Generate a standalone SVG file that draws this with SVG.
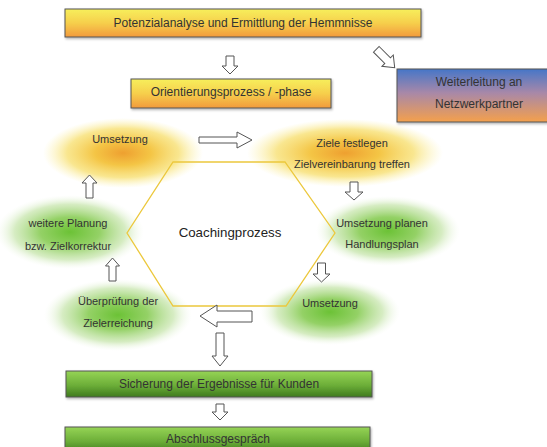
<svg xmlns="http://www.w3.org/2000/svg" width="547" height="447" viewBox="0 0 547 447">
<style>
  text { font-family: "Liberation Sans", Arial, sans-serif; fill: #333; text-anchor: middle; }
  .box { font-size: 12px; }
  .lbl { font-size: 11px; }
  .arrow { fill: #fff; stroke: #555; stroke-width: 1; stroke-linejoin: miter; }
  .frame { stroke: #555; stroke-width: 1; }
</style>
<defs>
  <linearGradient id="gOrange" x1="0" y1="0" x2="0" y2="1">
    <stop offset="0" stop-color="#f7ef5c"/>
    <stop offset="0.5" stop-color="#f6cf4c"/>
    <stop offset="1" stop-color="#f29a3c"/>
  </linearGradient>
  <linearGradient id="gBlue" x1="0" y1="0" x2="0" y2="1">
    <stop offset="0" stop-color="#4676c8"/>
    <stop offset="0.45" stop-color="#a888a8"/>
    <stop offset="1" stop-color="#f4a04c"/>
  </linearGradient>
  <linearGradient id="gGreen" x1="0" y1="0" x2="0" y2="1">
    <stop offset="0" stop-color="#96d456"/>
    <stop offset="0.55" stop-color="#6cae38"/>
    <stop offset="1" stop-color="#3e7a1e"/>
  </linearGradient>
  <radialGradient id="rYellow" cx="0.5" cy="0.5" r="0.5">
    <stop offset="0" stop-color="#eea030"/>
    <stop offset="0.35" stop-color="#f4c545"/>
    <stop offset="0.7" stop-color="#f7de6a" stop-opacity="0.75"/>
    <stop offset="1" stop-color="#fbf0a0" stop-opacity="0"/>
  </radialGradient>
  <radialGradient id="rGreen" cx="0.5" cy="0.5" r="0.5">
    <stop offset="0" stop-color="#6cc236"/>
    <stop offset="0.4" stop-color="#94d166"/>
    <stop offset="0.75" stop-color="#c4e4a8" stop-opacity="0.7"/>
    <stop offset="1" stop-color="#eef7e6" stop-opacity="0"/>
  </radialGradient>
  <filter id="sh" x="-5%" y="-20%" width="110%" height="150%">
    <feDropShadow dx="1" dy="1.5" stdDeviation="1" flood-color="#000" flood-opacity="0.3"/>
  </filter>
</defs>

<g id="blobs">
  <g id="n-umsetzung1"><ellipse cx="123" cy="153" rx="80" ry="35" fill="url(#rYellow)"/></g>
  <g id="n-ziele"><ellipse cx="345" cy="153" rx="98" ry="34" fill="url(#rYellow)"/></g>
  <g id="n-weitere"><ellipse cx="70" cy="232" rx="74" ry="37" fill="url(#rGreen)"/></g>
  <g id="n-planen"><ellipse cx="388" cy="231" rx="72" ry="35" fill="url(#rGreen)"/></g>
  <g id="n-ueberpruefung"><ellipse cx="118" cy="315" rx="74" ry="36" fill="url(#rGreen)"/></g>
  <g id="n-umsetzung2"><ellipse cx="330" cy="312" rx="70" ry="33" fill="url(#rGreen)"/></g>
</g>

<g id="hexagon">
  <polygon points="173,162 285,162 335,233 286,306 173,306 127,233" fill="none" stroke="#ecc83c" stroke-width="1.3"/>
  <text x="230" y="237" style="font-size:13.3px;fill:#222">Coachingprozess</text>
</g>

<g id="n-potenzial">
  <rect x="65" y="9" width="356" height="28" fill="url(#gOrange)" class="frame" filter="url(#sh)"/>
  <text class="box" x="243" y="27">Potenzialanalyse und Ermittlung der Hemmnisse</text>
</g>
<g id="n-orientierung">
  <rect x="131" y="79" width="200" height="29" fill="url(#gOrange)" class="frame" filter="url(#sh)"/>
  <text class="box" x="231" y="96">Orientierungsprozess / -phase</text>
</g>
<g id="n-weiterleitung">
  <rect x="397" y="69" width="162" height="53" fill="url(#gBlue)" class="frame" filter="url(#sh)"/>
  <text class="box" x="479" y="86">Weiterleitung an</text>
  <text class="box" x="479" y="108">Netzwerkpartner</text>
</g>
<g id="n-sicherung">
  <rect x="66" y="371" width="306" height="26" fill="url(#gGreen)" class="frame" filter="url(#sh)"/>
  <text class="box" x="219" y="388">Sicherung der Ergebnisse für Kunden</text>
</g>
<g id="n-abschluss">
  <rect x="65" y="427" width="305" height="26" fill="url(#gGreen)" class="frame" filter="url(#sh)"/>
  <text class="box" x="218" y="443">Abschlussgespräch</text>
</g>

<g id="labels">
  <text class="lbl" x="120" y="143">Umsetzung</text>
  <text class="lbl" x="352" y="147">Ziele festlegen</text>
  <text class="lbl" x="352" y="168">Zielvereinbarung treffen</text>
  <text class="lbl" x="68" y="227">weitere Planung</text>
  <text class="lbl" x="68" y="250">bzw. Zielkorrektur</text>
  <text class="lbl" x="382" y="227">Umsetzung planen</text>
  <text class="lbl" x="382" y="248">Handlungsplan</text>
  <text class="lbl" x="118" y="305">Überprüfung der</text>
  <text class="lbl" x="118" y="327">Zielerreichung</text>
  <text class="lbl" x="330" y="307">Umsetzung</text>
</g>

<g id="connectors">
  <!-- down: Potenzial -> Orientierung -->
  <path class="arrow" d="M226,56 H234 V66 H238 L230,74 L222,66 H226 Z"/>
  <!-- diagonal: Potenzial -> Weiterleitung -->
  <path class="arrow" transform="translate(385.5,58.5) rotate(45)" d="M-13,-4 H3 V-8 L13,0 L3,8 V4 H-13 Z"/>
  <!-- right: Umsetzung -> Ziele -->
  <path class="arrow" d="M199,137 H237 V132 L252,140 L237,148 V143 H199 Z"/>
  <!-- down: Ziele -> Planen -->
  <path class="arrow" d="M350,182 H358 V192 H363 L354,200 L345,192 H350 Z"/>
  <!-- down: Planen -> Umsetzung2 -->
  <path class="arrow" d="M317.5,263 H325.5 V274 H330 L321.5,282 L313,274 H317.5 Z"/>
  <!-- left: Umsetzung2 -> Ueberpruefung -->
  <path class="arrow" d="M252,311 H217 V305 L200,316 L217,327 V322 H252 Z"/>
  <!-- up: Ueberpruefung -> weitere -->
  <path class="arrow" d="M109,281 H116 V266 H119.5 L112.5,258 L105.5,266 H109 Z"/>
  <!-- up: weitere -> Umsetzung1 -->
  <path class="arrow" d="M86,198 H93 V183 H97 L89.5,175 L82,183 H86 Z"/>
  <!-- down: cycle -> Sicherung -->
  <path class="arrow" d="M216,333 H224 V356 H228 L220,366 L212,356 H216 Z"/>
  <!-- down: Sicherung -> Abschluss -->
  <path class="arrow" d="M216,404 H224 V412 H228 L220,420 L212,412 H216 Z"/>
</g>
</svg>
